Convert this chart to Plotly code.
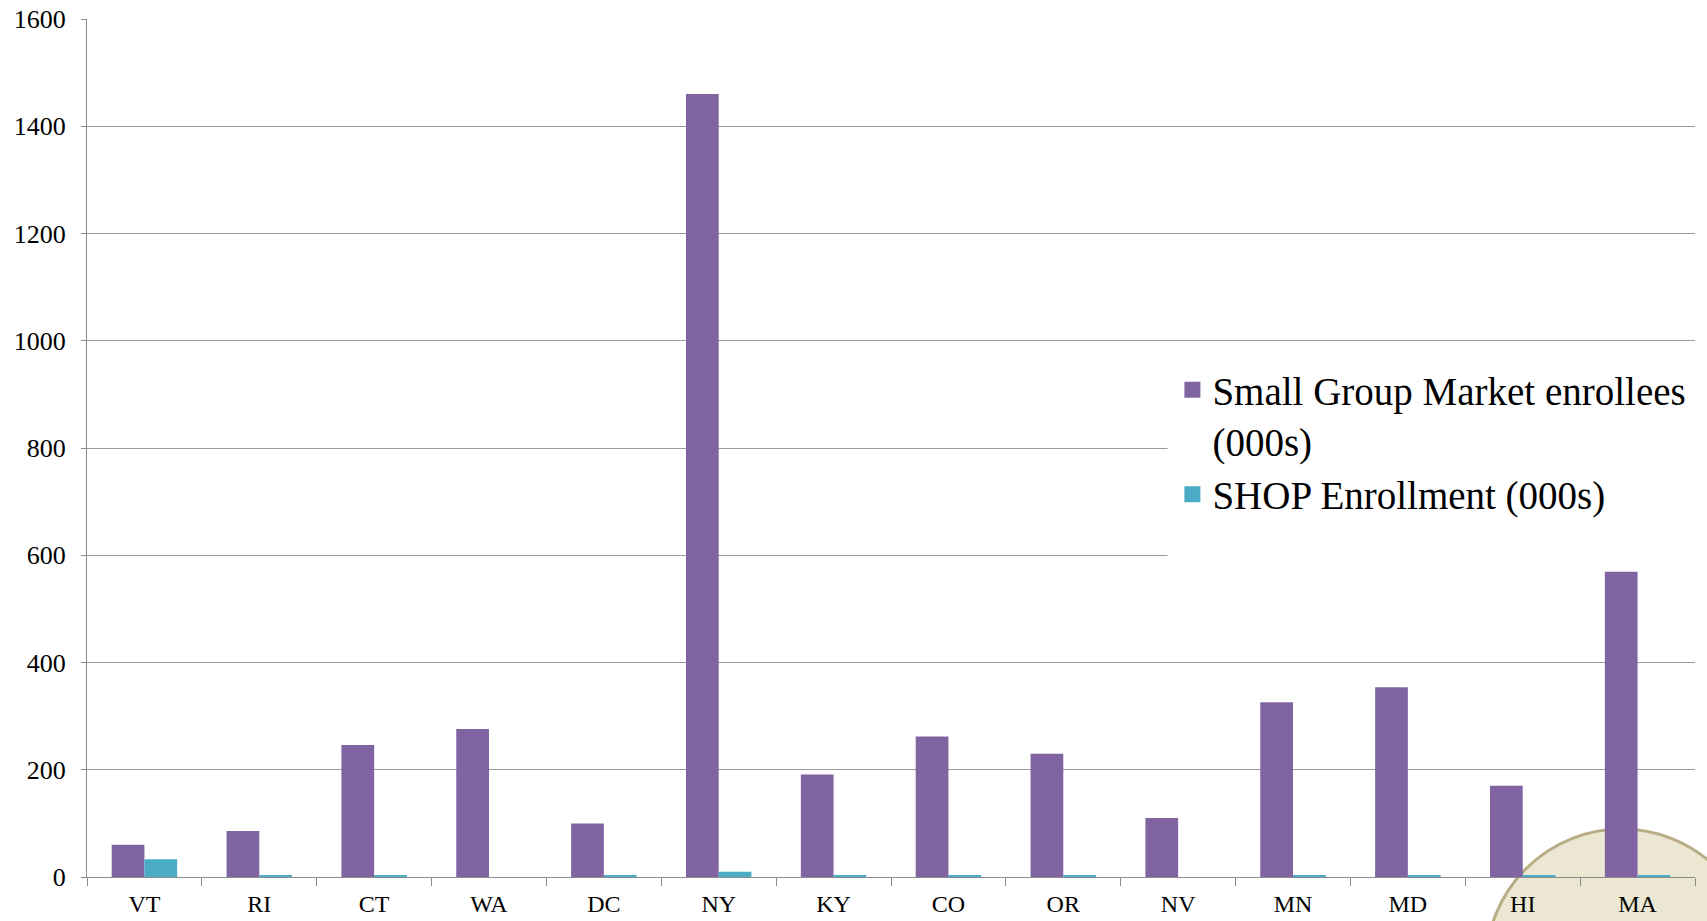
import plotly.graph_objects as go

states = ["VT", "RI", "CT", "WA", "DC", "NY", "KY", "CO", "OR", "NV", "MN", "MD", "HI", "MA"]
small_group = [60, 86, 246, 276, 100, 1460, 191, 262, 230, 110, 326, 354, 170, 569]
shop = [33, 3, 3, 0, 3, 10, 3, 3, 3, 0, 3, 3, 3, 3]
y_ticks = [0, 200, 400, 600, 800, 1000, 1200, 1400, 1600]
names = ["Small Group Market enrollees<br>(000s)", "SHOP Enrollment (000s)"]

PURPLE = "#8064a2"
CYAN = "#4bacc6"
FONT = "Liberation Serif, Times New Roman, DejaVu Serif, serif"

fig = go.Figure()
fig.add_trace(go.Bar(x=states, y=small_group, name=names[0], showlegend=False,
                     marker=dict(color=PURPLE, line=dict(width=0))))
fig.add_trace(go.Bar(x=states, y=shop, name=names[1], showlegend=False,
                     marker=dict(color=CYAN, line=dict(width=0))))
# legend entries with larger square swatches
for nm, col in zip(names, [PURPLE, CYAN]):
    fig.add_trace(go.Scatter(x=[None], y=[None], mode="markers", name=nm,
                             marker=dict(symbol="square", size=22, color=col)))

# decorative seal in the bottom-right corner
fig.add_shape(type="circle", xref="paper", yref="paper",
              x0=0.870, x1=1.039, y0=-0.262, y1=0.056, layer="below",
              fillcolor="#ebe7d3", line=dict(color="#b9ad86", width=3))
# white legend box area hiding gridlines
fig.add_shape(type="rect", xref="paper", yref="paper",
              x0=0.672, x1=1.002, y0=0.362, y1=0.60, layer="above",
              fillcolor="white", line=dict(width=0))

fig.update_layout(
    width=1707, height=921,
    margin=dict(l=87, r=12, t=19, b=44),
    paper_bgcolor="white", plot_bgcolor="rgba(0,0,0,0)",
    barmode="group", bargap=0.43, bargroupgap=0,
    font=dict(family=FONT, color="black"),
    showlegend=True,
    legend=dict(x=0.675, y=0.605, xanchor="left", yanchor="top",
                bgcolor="rgba(0,0,0,0)", font=dict(size=39, family=FONT),
                tracegroupgap=6, itemwidth=30, valign="top"),
    xaxis=dict(showline=True, linecolor="#8c8c8c", linewidth=1,
               ticks="outside", tickson="boundaries", ticklen=8, tickcolor="#8c8c8c",
               tickfont=dict(size=24, family=FONT), showgrid=False,
               ticklabelstandoff=5, automargin=False),
    yaxis=dict(range=[0, 1600], tickvals=y_ticks, showline=True, linecolor="#8c8c8c",
               linewidth=1, ticks="outside", ticklen=5, tickcolor="#8c8c8c",
               gridcolor="#9a9a9a", gridwidth=1, zeroline=False,
               tickfont=dict(size=26, family=FONT), ticklabelstandoff=10,
               automargin=False),
)

fig.write_html("out.html")
